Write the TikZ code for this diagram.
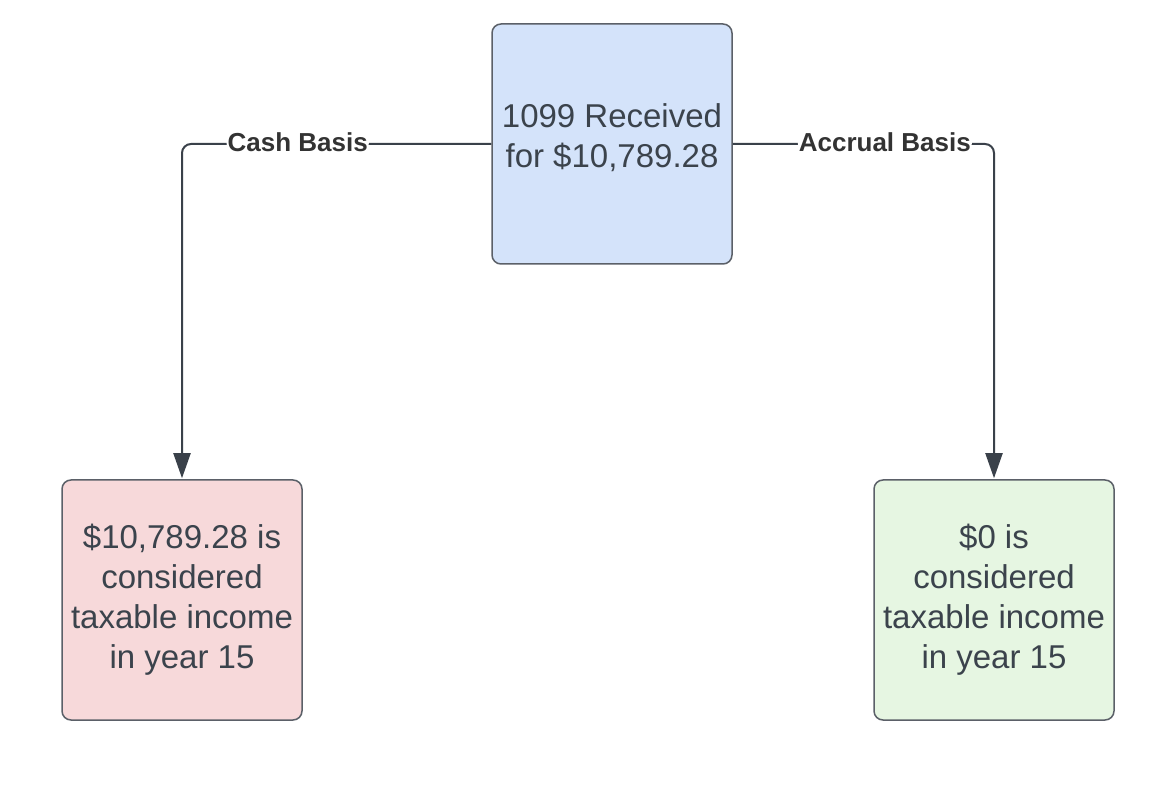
\documentclass[tikz,border=0pt]{standalone}
\usepackage{fontspec}
\setmainfont{Liberation Sans}
\usetikzlibrary{arrows.meta}
\definecolor{boxtext}{HTML}{3B434C}
\definecolor{boxline}{HTML}{5B6068}
\definecolor{linkgray}{HTML}{3A414A}
\definecolor{labeltext}{HTML}{333333}
\definecolor{fillblue}{HTML}{D4E3FA}
\definecolor{fillpink}{HTML}{F7D9DA}
\definecolor{fillgreen}{HTML}{E6F6E2}

\begin{document}
\begin{tikzpicture}[x=1pt,y=1pt,
  card/.style={draw=boxline,line width=1.5pt,rounded corners=9pt,minimum width=240pt,minimum height=240pt,
    align=center,text=boxtext,font=\fontsize{33}{40}\selectfont,inner sep=0pt},
  link/.style={draw=linkgray,line width=2pt,rounded corners=9pt,-{Triangle[length=25pt,width=17pt]},shorten >=1pt},
  basis/.style={fill=white,inner sep=1pt,text=labeltext,font=\fontsize{26}{30}\selectfont\bfseries}]
% CANVAS
\useasboundingbox (0,0) rectangle (1172,806);
% BOXES
\node [card,fill=fillblue,text depth=16pt] (form) at (612,662) {1099 Received\\for \$10,789.28};
\node [card,fill=fillpink] (cash) at (182,206) {\$10,789.28 is\\considered\\taxable income\\in year 15};
\node [card,fill=fillgreen] (accrual) at (994,206) {\$0 is\\considered\\taxable income\\in year 15};
% CONNECTORS
\draw [link] (form.west) -| node [basis,pos=0.313,yshift=2pt] {Cash Basis} (cash.north);
\draw [link] (form.east) -| node [basis,pos=0.291,yshift=2pt] {Accrual Basis} (accrual.north);
\end{tikzpicture}
\end{document}
